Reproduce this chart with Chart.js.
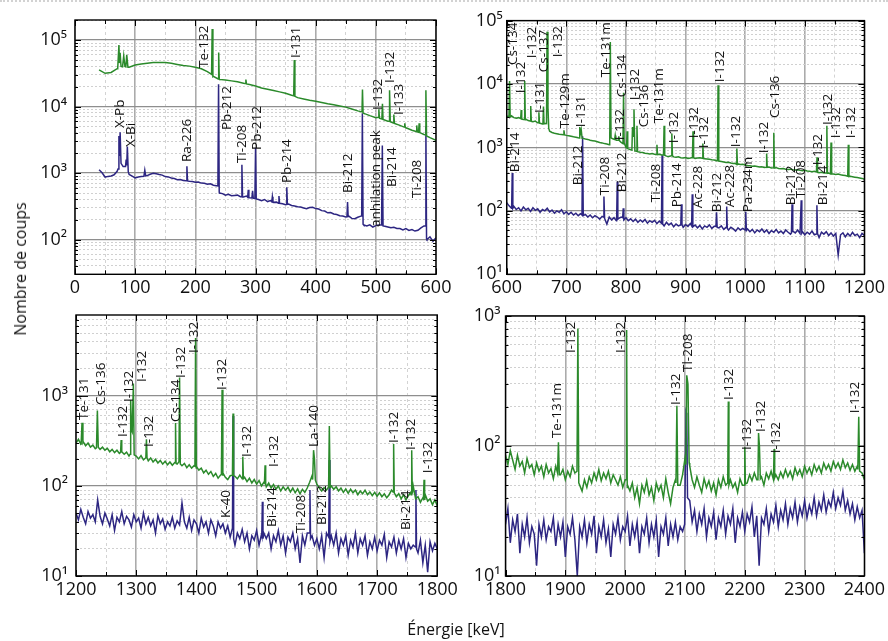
<!DOCTYPE html>
<html><head><meta charset="utf-8">
<script src="https://cdn.jsdelivr.net/npm/chart.js@4/dist/chart.umd.min.js"></script>
<style>
html,body{margin:0;padding:0;background:#fff;}
#wrap{position:relative;width:888px;height:641px;overflow:hidden;background:#fff;}
#wrap canvas{position:absolute;left:0;top:0;}
.topdots{position:absolute;left:0;top:0;width:888px;height:0;border-top:2px dotted #d2d2d2;}
.ytitle{position:absolute;left:19.5px;top:269px;transform:translate(-50%,-50%) rotate(-90deg);font-family:"Open Sans";font-size:16px;white-space:nowrap;color:#111;line-height:20px;}
.xtitle{position:absolute;left:456px;top:629px;transform:translate(-50%,-50%);font-family:"Open Sans";font-size:16px;white-space:nowrap;color:#111;line-height:20px;}
</style></head>
<body>
<div id="wrap">
<div class="topdots"></div>
<canvas id="c1" width="888" height="641"></canvas>
<canvas id="c2" width="888" height="641"></canvas>
<canvas id="c3" width="888" height="641"></canvas>
<canvas id="c4" width="888" height="641"></canvas>
<div class="ytitle">Nombre de coups</div>
<div class="xtitle">Énergie [keV]</div>
</div>
<script>
// ---------------- tick labels ----------------
const p1XTicks = [0,100,200,300,400,500,600];
const p2XTicks = [600,700,800,900,1000,1100,1200];
const p3XTicks = [1200,1300,1400,1500,1600,1700,1800];
const p4XTicks = [1800,1900,2000,2100,2200,2300,2400];
const p1YDecades = [100,1000,10000,100000];
const p2YDecades = [10,100,1000,10000,100000];
const p3YDecades = [10,100,1000];
const p4YDecades = [10,100,1000];

// ---------------- panel 1 : 0-600 keV ----------------
const p1GreenStart = 40, p1GreenStep = 10;
const p1GreenCounts = [
 35500,31600,32500,37000,40000,39000,
 42000,43600,44700,45800,46000,45800,44700,43000,41500,40500,
 39000,37000,33500,28500,25600,25000,24300,23500,22400,21400,
 20400,19000,18200,17400,16600,15800,14800,13600,13000,12400,
 12000,11500,11000,10600,10200,9800,9200,8600,7900,7300,
 6800,6400,6000,5600,5200,4800,4400,4100,3800,3400,
 3100];
const p1GreenPeaks = [
 [[71,37500],[73,84000],[74,45000],[75,64000],[76.5,40000],[79,39500],[81,58000],[83,40000],[84.5,39500],[86,60000],[88,39000]],
 [[227,30500],[228,146000],[229.2,28200]],
 [[238,26000],[238.8,65000],[239.8,25700]],
 [[283,22100],[284,25500],[285,21900]],
 [[363.5,14500],[364.5,50000],[365.5,14200]],
 [[477,8300],[477.8,18000],[478.8,8000]],
 [[504,6900],[505,9100],[506,6700],[510,6500],[511,11000],[512,6400]],
 [[522,6000],[522.8,17500],[524,5900]],
 [[529,5650],[529.9,7600],[531,5550]],
 [[547,4900],[548,5600],[549,4850]],
 [[567,4200],[568,5200],[569,4150],[571,4100],[572,5600],[573,4050]],
 [[582,3750],[583.2,17500],[584.3,3600]]
];
const p1BlueStart = 40, p1BlueStep = 5;
const p1BlueCounts = [
 1120,1010,
 870,890,905,940,1060,1350,1250,1300,950,900,
 845,870,885,900,915,960,990,975,950,930,885,875,840,825,795,800,770,770,750,745,
 725,730,705,700,680,690,655,645,500,490,465,480,455,460,465,440,435,450,425,420,
 410,400,385,400,372,385,362,365,350,345,333,342,325,320,312,308,298,290,302,305,
 292,288,272,268,252,255,242,238,228,226,218,225,208,206,216,225,165,160,166,154,
 162,166,160,158,154,150,153,147,146,139,146,137,141,134,138,150,160,100,110,94,
 106];
const p1BluePeaks = [
 [[71.5,1150],[73,3600],[74,1800],[75,4100],[76.5,1400]],
 [[84,1250],[85,1600],[86,1300],[87,2500],[88.5,1050]],
 [[114.5,890],[116,1100],[117.5,905]],
 [[185,768],[186,1260],[187,762]],
 [[237.5,642],[238.6,21600],[239.7,520]],
 [[276,440],[277.4,1330],[278.5,436]],
 [[287,432],[288,560],[289,428]],
 [[294,422],[295.2,540],[296.3,418]],
 [[299,412],[300.1,2400],[301.2,408]],
 [[327,370],[328,440],[329,366]],
 [[338,352],[339,450],[340,350]],
 [[351,336],[352,610],[353,338]],
 [[452,219],[453,366],[454,222]],
 [[476.5,226],[477.6,7900],[478.8,170]],
 [[509.5,165],[510.8,2600],[512,160]],
 [[582,160],[583.2,5000],[584.3,102]]
];
const p1Labels = [
 ['X-Pb',75.6,4750],['X-Bi',93,2460],['Ra-226',187,1460],['Te-132',214.4,37900],
 ['Pb-212',253.4,4430],['Ti-208',277.5,1410],['Pb-212',302.5,2220],['Pb-214',352.3,707],
 ['I-131',367.3,53600],['Bi-212',453.7,500],['anhilation peak',500.2,154],
 ['I-132',503.6,8860],['I-132',523.5,22500],['I-133',538.5,7450],['Bi-214',526.8,617],['Ti-208',569.2,421]
];

// ---------------- panel 2 : 600-1200 keV ----------------
const p2Start = 600, p2Step = 4;
const p2GreenCounts = [
 3100,3000,3150,2950,2900,2950,2800,2750,2800,2650,
 2600,2550,2600,2450,2400,2350,2400,2300,1800,1720,
 1680,1650,1620,1600,1580,1550,1530,1500,1470,1450,
 1420,1400,1390,1360,1340,1300,1280,1260,1230,1200,
 1180,1150,1130,1100,1400,1350,1300,1300,1200,1100,
 1000,950,920,900,880,860,840,830,810,800,
 790,800,780,770,780,760,740,730,720,725,
 710,700,710,690,680,695,670,680,660,670,
 680,690,670,665,660,650,640,635,620,610,
 600,590,580,585,570,560,565,550,540,545,
 530,520,515,505,510,500,490,495,485,480,
 490,475,470,480,465,460,465,455,450,455,
 445,440,445,435,430,435,425,420,415,420,
 410,400,405,395,390,395,385,380,375,380,
 370,365,360,355,350,345,340,335,330,325,
 315];
const p2GreenPeaks = [
 [[603.8,3080],[604.8,11200],[605.8,3000]],
 [[623.5,2850],[624.3,3900],[625.2,2800]],
 [[629.3,2760],[630.2,11200],[631.2,2740]],
 [[639.3,2620],[640.3,4500],[641.3,2580]],
 [[653,2450],[654,3600],[655,2420]],
 [[660.8,2380],[661.7,4400],[662.6,2360]],
 [[666.8,2380],[667.7,67000],[669.2,4300],[670.5,2000]],
 [[695,1585],[696,1860],[697,1575]],
 [[721.5,1410],[722.5,2100],[723.6,1650],[725,1900],[726.5,1395]],
 [[772.8,1110],[773.8,46000],[775,1420]],
 [[781,1340],[782,1550],[783,1320]],
 [[787,1300],[788,1500],[789,1280]],
 [[795,1150],[796,7300],[797,1180]],
 [[801,990],[802,1800],[803,960]],
 [[810,910],[811,2100],[812,1500],[813.5,4000],[815,880]],
 [[817.5,870],[818.5,2200],[819.5,860]],
 [[851,775],[852,1100],[853,772]],
 [[863,760],[864,2200],[865,755]],
 [[876,742],[877,1660],[878,738]],
 [[911.5,692],[912.5,1800],[913.5,688]],
 [[928,675],[929,1150],[930,668]],
 [[953.5,622],[954.5,9600],[955.5,615]],
 [[985,542],[986,960],[987,540]],
 [[1035,488],[1036,800],[1037,484]],
 [[1047,478],[1048,1700],[1049,474]],
 [[1119.5,412],[1120.5,700],[1121.5,405]],
 [[1136,396],[1137,2200],[1138,392]],
 [[1143,384],[1144,1200],[1145,380]],
 [[1172,352],[1173,1100],[1174,348]]
];
const p2BlueCounts = [
 135,120,110,118,105,112,100,115,104,110,
 98,112,102,108,95,105,100,110,96,103,
 92,100,95,104,90,97,88,95,86,92,
 84,90,82,88,80,86,78,84,80,74,
 82,76,62,80,72,78,70,76,80,72,
 78,70,75,68,74,66,72,67,73,64,
 70,66,71,63,69,65,58,66,60,64,
 56,62,58,63,55,61,57,63,56,60,
 54,59,52,58,55,60,53,57,62,54,
 58,51,56,50,55,52,48,54,50,53,
 48,52,47,51,45,50,47,52,46,50,
 44,49,46,51,45,48,44,50,46,43,
 48,45,50,44,47,42,46,43,48,42,
 45,38,46,43,47,41,45,40,44,20,
 42,45,39,44,40,46,41,43,38,44,
 41];
const p2BluePeaks = [
 [[608.3,112],[609.3,395],[610.3,110]],
 [[726.3,86],[727.3,1500],[728.4,84]],
 [[762,80],[763.1,168],[764.2,76]],
 [[784.4,72],[785.4,290],[786.4,74]],
 [[794.5,78],[795.5,110],[796.5,72]],
 [[859.6,64],[860.6,750],[861.6,62]],
 [[892,60],[893,127],[894,61]],
 [[910.2,58],[911.2,183],[912.2,56]],
 [[951,57],[952,95],[953,55]],
 [[968,55],[969,117],[970,53]],
 [[1000,50],[1001,97],[1002,49]],
 [[1077.6,45],[1078.6,127],[1079.6,46]],
 [[1093,44],[1094,147],[1095,45]],
 [[1119.3,43],[1120.3,123],[1121.3,44]]
];
const p2Labels = [
 ['Cs-134',611.6,19900],['I-132',624.9,7180],['I-132',643.2,25600],['Cs-137',663.2,15400],
 ['I-131',656.5,3480],['I-132',686.4,26500],['Te-129m',698.1,2010],['I-131',724.6,2090],
 ['Te-131m',766.2,12800],['Cs-134',794.4,6210],['I-132',789.5,1300],['I-132',815.4,5570],
 ['Cs-136',831,2090],['Te-131m',856,2410],['I-132',880.9,1170],['I-132',914.1,1400],
 ['I-132',930.7,975],['I-132',957.3,10700],['I-132',985.6,1010],['I-132',1032.1,813],
 ['Cs-136',1050.4,2900],['I-132',1121.9,525],['I-132',1138.5,2250],['I-132',1153.4,1400],['I-132',1178.4,1400],
 ['Bi-214',615,407],['Bi-212',719.7,254],['Ti-208',764.5,177],['Bi-212',794.4,197],
 ['Ti-208',851,137],['Pb-214',885.9,114],['Ac-228',920.8,110],['Bi-212',952.3,95],
 ['Ac-228',975.6,114],['Pa-234m',1005.5,95],['Bi-212',1077,123],['Ti-208',1093.6,158],['Bi-214',1130.2,123]
];

// ---------------- panel 3 : 1200-1800 keV ----------------
const p3Start = 1200, p3Step = 4;
const p3GreenCounts = [
 300,330,290,310,280,300,270,285,260,275,
 255,270,250,262,240,255,235,250,230,245,
 225,238,215,230,250,215,200,218,195,210,
 190,205,185,198,180,192,175,188,172,185,
 170,182,175,190,168,178,160,172,158,168,
 165,150,158,140,150,135,145,128,138,122,
 132,140,125,118,130,140,128,120,132,118,
 125,112,122,108,118,105,115,100,110,98,
 108,95,104,92,100,88,98,90,97,86,
 95,84,93,82,92,85,95,110,130,140,
 105,95,88,96,90,92,100,92,98,88,
 95,85,93,83,92,84,90,80,88,82,
 90,80,86,78,85,77,84,76,82,74,
 80,90,85,76,82,72,80,70,78,85,
 100,72,76,66,74,80,68,72,62,70,
 60];
const p3GreenPeaks = [
 [[1208.5,292],[1210,505],[1211.5,305]],
 [[1234,265],[1235.5,690],[1237,270]],
 [[1274,236],[1275,325],[1276,240]],
 [[1289.8,226],[1290.8,900],[1292,420],[1293.3,400],[1295.3,1380],[1296.6,222]],
 [[1316,206],[1317,330],[1318,204]],
 [[1364.5,182],[1365.3,500],[1366.2,178]],
 [[1371,186],[1372,1600],[1373.2,176]],
 [[1397.5,166],[1398.6,4400],[1399.8,158]],
 [[1441.5,134],[1442.6,1170],[1443.8,130]],
 [[1459.8,132],[1460.8,640],[1461.8,130]],
 [[1476,120],[1477,212],[1478,121]],
 [[1513,108],[1514,170],[1515,106]],
 [[1593,118],[1594.5,250],[1596,200],[1597.5,116]],
 [[1619.5,98],[1620.7,465],[1622,96]],
 [[1726.5,86],[1727.5,293],[1728.5,84]],
 [[1756.5,80],[1757.5,250],[1758.5,82]],
 [[1777,72],[1778,117],[1779,70]]
];
const p3BlueCounts = [
 50,42,55,45,38,52,44,48,40,70,
 46,38,50,43,36,48,32,45,40,52,
 38,46,42,35,48,40,44,34,50,38,
 45,36,42,30,47,38,43,33,40,36,
 45,34,41,37,65,40,34,45,32,42,
 38,30,44,35,40,30,42,36,28,40,
 34,38,30,36,27,33,22,30,26,33,
 24,30,20,28,25,32,22,29,30,26,
 30,20,28,24,32,22,28,18,27,24,
 30,20,26,14,28,22,30,35,28,22,
 26,20,28,16,30,28,28,22,30,18,
 26,22,28,17,25,21,30,18,26,22,
 28,17,24,20,27,19,25,22,29,16,
 24,21,27,18,25,20,26,16,23,20,
 22,24,18,25,14,22,11,24,19,23,
 20];
const p3BluePeaks = [
 [[1459.8,34],[1460.8,600],[1461.8,26]],
 [[1508.5,28],[1509.5,67],[1510.5,26]],
 [[1587.5,30],[1588.5,90],[1589.5,26]],
 [[1619.7,27],[1620.7,195],[1621.7,24]],
 [[1763.5,21],[1764.5,90],[1765.5,20]]
];
const p3Labels = [
 ['Te-131',1213.3,541],['Cs-136',1241.5,794],['I-132',1278.1,350],['I-132',1288.1,858],
 ['I-132',1309.7,1430],['I-132',1321.3,271],['Cs-134',1366.2,514],['I-132',1374.5,1585],
 ['I-132',1396.1,3000],['I-132',1442.6,1166],['I-132',1484.2,210],['I-132',1529,163],
 ['La-140',1595.5,271],['I-132',1728.5,300],['I-132',1756.8,251],['I-132',1785,139],
 ['K-40',1449.3,44],['Bi-214',1525.7,35],['Ti-208',1574,30],['Bi-212',1608.8,36.9],['Bi-214',1748.4,32.4]
];

// ---------------- panel 4 : 1800-2400 keV ----------------
const p4Start = 1800, p4Step = 4;
const p4GreenCounts = [
 85,72,92,78,66,85,70,76,62,80,
 68,72,60,74,64,70,58,72,62,67,
 56,70,62,60,66,55,64,58,70,62,
 60,50,45,55,48,58,52,62,55,66,
 54,62,56,64,52,60,55,50,58,48,
 55,50,45,52,40,48,36,50,44,54,
 42,48,38,52,45,50,40,56,44,36,
 48,55,50,50,60,80,70,70,55,48,
 58,50,44,56,48,54,45,52,42,55,
 48,58,50,52,55,48,52,44,56,50,
 52,52,60,54,62,55,58,58,50,62,
 56,64,52,60,55,63,57,66,58,64,
 56,68,60,66,58,70,62,68,60,72,
 64,70,62,74,66,72,64,76,68,74,
 66,78,68,74,65,72,64,70,70,62,
 55];
const p4GreenPeaks = [
 [[1887,62],[1888.5,107],[1890,60]],
 [[1919.5,64],[1921,800],[1922.5,52]],
 [[2001.5,55],[2002.5,780],[2003.5,48]],
 [[2085,52],[2086.5,204],[2088,50]],
 [[2101.5,72],[2103,350],[2105,300],[2107,74]],
 [[2171.5,52],[2172.5,220],[2173.5,50]],
 [[2199,50],[2200,98],[2201,51]],
 [[2222,55],[2223,126],[2224.5,100],[2226,56]],
 [[2248,55],[2249,95],[2250,57]],
 [[2389,66],[2390.5,168],[2392,64]]
];
const p4BlueCounts = [
 25,33,18,27,22,30,15,25,20,28,
 18,24,21,12,25,20,27,19,24,22,
 28,17,25,20,26,14,24,21,28,19,
 10,24,20,27,18,25,21,29,15,24,
 20,27,18,23,14,25,21,28,19,24,
 22,29,17,25,20,26,15,24,21,28,
 18,25,20,27,14,24,21,28,17,25,
 20,26,19,24,22,23,30,38,26,32,
 22,30,25,33,20,28,24,31,19,28,
 24,32,21,29,25,33,18,28,24,31,
 22,30,26,34,20,29,12,28,25,33,
 22,30,26,35,24,32,27,36,25,33,
 28,37,26,34,29,38,28,35,30,40,
 29,37,32,42,31,38,34,44,33,40,
 35,45,32,38,30,36,27,34,28,32,
 15];
const p4BluePeaks = [
 [[2099.5,25],[2100.5,60],[2101.8,180],[2103,170],[2104.3,40]]
];
const p4Labels = [
 ['Te-131m',1886.9,115],['I-132',1910.1,519],['I-132',1992.9,519],['I-132',2085.6,207],
 ['Tl-208',2105.5,371],['I-132',2173.3,226],['I-132',2204.8,93],['I-132',2228,128],
 ['I-132',2252.8,88],['I-132',2385.3,179]
];

// ---------------- helpers ----------------
const GREEN = '#2b8a2b', BLUE = '#2d2682';
const SUP = {'0':'⁰','1':'¹','2':'²','3':'³','4':'⁴','5':'⁵','6':'⁶','7':'⁷','8':'⁸','9':'⁹'};
function buildSeries(start, step, counts, groups){
  const pts = new Map();
  counts.forEach((c,i)=>pts.set(+(start+i*step).toFixed(3), c));
  groups.forEach(g=>{
    const lo=g[0][0], hi=g[g.length-1][0];
    for (const e of Array.from(pts.keys())) if (e>=lo && e<=hi) pts.delete(e);
  });
  groups.forEach(g=>g.forEach(([e,c])=>pts.set(e,c)));
  return Array.from(pts.entries()).sort((a,b)=>a[0]-b[0]).map(([x,y])=>({x,y}));
}
function isDecade(v){const l=Math.log10(v);return Math.abs(l-Math.round(l))<1e-9;}
function logTicks(min,max){
  const out=[];
  for(let e=Math.floor(Math.log10(min)); e<=Math.ceil(Math.log10(max)); e++){
    for(let m=1;m<=9;m++){const v=+(m*Math.pow(10,e)).toPrecision(8); if(v>=min*0.9999 && v<=max*1.0001) out.push(v);}
  }
  return out;
}
function xTickList(majors){
  const out=[];
  for(let i=0;i<majors.length;i++){out.push(majors[i]); if(i<majors.length-1) out.push((majors[i]+majors[i+1])/2);}
  return out;
}

const panels = [
 {id:'c1', area:{l:75,t:20,r:436,b:274.3}, xMin:0, xMax:600, yMin:30, yMax:2e5, xMajor:p1XTicks, yDec:p1YDecades, yPad:8,
  green:buildSeries(p1GreenStart,p1GreenStep,p1GreenCounts,p1GreenPeaks), blue:buildSeries(p1BlueStart,p1BlueStep,p1BlueCounts,p1BluePeaks), labels:p1Labels},
 {id:'c2', area:{l:506.7,t:20.6,r:868.3,b:274.3}, xMin:600, xMax:1200, yMin:10, yMax:1e5, xMajor:p2XTicks, yDec:p2YDecades, yPad:4,
  green:buildSeries(p2Start,p2Step,p2GreenCounts,p2GreenPeaks), blue:buildSeries(p2Start,p2Step,p2BlueCounts,p2BluePeaks), labels:p2Labels},
 {id:'c3', area:{l:76,t:315,r:437.3,b:576}, xMin:1200, xMax:1800, yMin:10, yMax:Math.pow(10,3.9), xMajor:p3XTicks, yDec:p3YDecades, yPad:8,
  green:buildSeries(p3Start,p3Step,p3GreenCounts,p3GreenPeaks), blue:buildSeries(p3Start,p3Step,p3BlueCounts,p3BluePeaks), labels:p3Labels},
 {id:'c4', area:{l:505.5,t:316,r:867.8,b:576}, xMin:1800, xMax:2400, yMin:10, yMax:1000, xMajor:p4XTicks, yDec:p4YDecades, yPad:5,
  green:buildSeries(p4Start,p4Step,p4GreenCounts,p4GreenPeaks), blue:buildSeries(p4Start,p4Step,p4BlueCounts,p4BluePeaks), labels:p4Labels}
];
const panelById = {}; panels.forEach(p=>panelById[p.id]=p);

const decorPlugin = {
  id:'decor',
  afterDatasetsDraw(chart){
    const p = panelById[chart.canvas.id]; if(!p) return;
    const ctx = chart.ctx, xs = chart.scales.x, ys = chart.scales.y;
    ctx.save();
    ctx.fillStyle = '#111';
    ctx.font = '13.5px "Open Sans"';
    ctx.textAlign = 'left'; ctx.textBaseline = 'middle';
    p.labels.forEach(([t,e,v])=>{
      const x = xs.getPixelForValue(e), y = ys.getPixelForValue(v);
      ctx.save(); ctx.translate(x,y); ctx.rotate(-Math.PI/2); ctx.fillText(t,0,0); ctx.restore();
    });
    ctx.restore();
  },
  afterDraw(chart){
    const p = panelById[chart.canvas.id]; if(!p) return;
    const ctx = chart.ctx, a = chart.chartArea, xs = chart.scales.x, ys = chart.scales.y;
    ctx.save();
    ctx.strokeStyle = '#000'; ctx.lineWidth = 1;
    ctx.beginPath();
    ys.ticks.forEach(t=>{
      const y = Math.round(ys.getPixelForValue(t.value))+0.5;
      const len = isDecade(t.value)?6:3;
      ctx.moveTo(a.left,y); ctx.lineTo(a.left+len,y);
      ctx.moveTo(a.right,y); ctx.lineTo(a.right-len,y);
    });
    xs.ticks.forEach(t=>{
      const x = Math.round(xs.getPixelForValue(t.value))+0.5;
      const len = p.xMajor.includes(t.value)?6:4;
      ctx.moveTo(x,a.bottom); ctx.lineTo(x,a.bottom-len);
      ctx.moveTo(x,a.top); ctx.lineTo(x,a.top+len);
    });
    ctx.stroke();
    ctx.lineWidth = 1.4;
    ctx.strokeRect(a.left, a.top, a.right-a.left, a.bottom-a.top);
    ctx.restore();
  }
};

panels.forEach(p=>{
  const xt = xTickList(p.xMajor);
  const yt = logTicks(p.yMin, p.yMax);
  new Chart(document.getElementById(p.id), {
    type:'line',
    data:{datasets:[
      {label:'green', data:p.green, borderColor:GREEN, borderWidth:1.5, pointRadius:0, tension:0, fill:false},
      {label:'blue', data:p.blue, borderColor:BLUE, borderWidth:1.5, pointRadius:0, tension:0, fill:false}
    ]},
    options:{
      responsive:false, animation:false, devicePixelRatio:1, parsing:false, normalized:true,
      events:[],
      layout:{padding:{left:p.area.l-60, top:p.area.t, right:888-p.area.r, bottom:641-p.area.b-30}},
      plugins:{legend:{display:false}, tooltip:{enabled:false}, title:{display:false}},
      scales:{
        x:{type:'linear', min:p.xMin, max:p.xMax,
           afterBuildTicks:s=>{s.ticks = xt.map(v=>({value:v}));},
           afterFit:s=>{s.height=30;},
           ticks:{autoSkip:false, maxRotation:0, minRotation:0, padding:3, color:'#111',
                  font:{family:'Open Sans', size:18},
                  callback:(v)=> p.xMajor.includes(v) ? String(v) : ''},
           grid:{drawTicks:false,
                 color:c=> (c.tick && p.xMajor.includes(c.tick.value)) ? '#ababab' : '#d3d3d3',
                 lineWidth:c=> (c.tick && p.xMajor.includes(c.tick.value)) ? 1.6 : 1},
           border:{display:false, dash:c=> (c.tick && p.xMajor.includes(c.tick.value)) ? [] : [3,3]}},
        y:{type:'logarithmic', min:p.yMin, max:p.yMax,
           afterBuildTicks:s=>{s.ticks = yt.map(v=>({value:v, major:isDecade(v)}));},
           afterFit:s=>{s.width=60;},
           ticks:{autoSkip:false, padding:p.yPad, color:'#111',
                  font:{family:'Open Sans', size:18},
                  callback:(v)=> (isDecade(v) && p.yDec.some(d=>Math.abs(d-v)<1e-6*d)) ? '10'+SUP[String(Math.round(Math.log10(v)))] : ''},
           grid:{drawTicks:false,
                 color:c=> (c.tick && isDecade(c.tick.value)) ? '#8e8e8e' : '#d0d0d0',
                 lineWidth:c=> (c.tick && isDecade(c.tick.value)) ? 1.3 : 1},
           border:{display:false, dash:c=> (c.tick && isDecade(c.tick.value)) ? [] : [2,2]}}
      }
    },
    plugins:[decorPlugin]
  });
});
</script>
</body></html>
